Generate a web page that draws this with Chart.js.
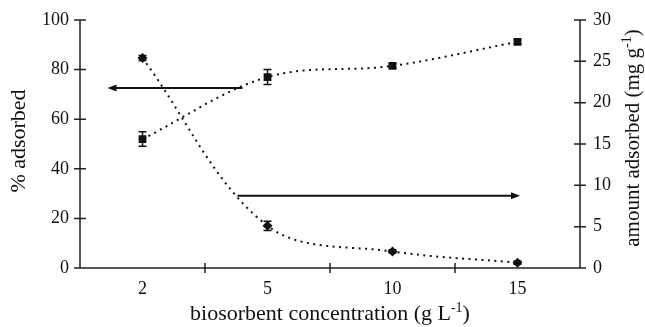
<!DOCTYPE html>
<html><head><meta charset="utf-8">
<script src="https://cdn.jsdelivr.net/npm/chart.js@4"></script>
<style>html,body{margin:0;padding:0;background:#fff}#c{display:block}</style>
</head><body>
<canvas id="c" width="645" height="327"></canvas>
<script>
const categories = ['2', '5', '10', '15'];
const percentAdsorbed = [52, 77, 81.5, 91.2];
const percentError = [2.9, 3.0, 0.9, 0.8];
const amountAdsorbed = [25.4, 5.1, 2.0, 0.65];
const amountError = [0.3, 0.55, 0.2, 0.2];
const leftTicks = [0, 20, 40, 60, 80, 100];
const rightTicks = [0, 5, 10, 15, 20, 25, 30];
// arrows, in axis units: [category index, value]
const arrowToLeft = { axis: 'y', from: [0.8, 72.6], to: [-0.28, 72.6] };
const arrowToRight = { axis: 'y1', from: [0.76, 8.75], to: [3.02, 8.75] };

const SERIF = "'Liberation Serif', 'Times New Roman', serif";
const INK = '#111';

const decor = {
  id: 'decor',
  afterDatasetsDraw(chart) {
    const ctx = chart.ctx;
    const x = chart.scales.x, y = chart.scales.y, y1 = chart.scales.y1;
    ctx.save();
    ctx.strokeStyle = INK; ctx.fillStyle = INK; ctx.lineWidth = 1.5;
    const bars = (vals, errs, sc) => {
      vals.forEach((v, i) => {
        const px = x.getPixelForValue(i);
        const t = sc.getPixelForValue(v + errs[i]), b = sc.getPixelForValue(v - errs[i]);
        ctx.beginPath();
        ctx.moveTo(px, t); ctx.lineTo(px, b);
        ctx.moveTo(px - 4, t); ctx.lineTo(px + 4, t);
        ctx.moveTo(px - 4, b); ctx.lineTo(px + 4, b);
        ctx.stroke();
      });
    };
    bars(percentAdsorbed, percentError, y);
    bars(amountAdsorbed, amountError, y1);
    const arrow = (a) => {
      const sc = chart.scales[a.axis];
      const x0 = x.getPixelForValue(a.from[0]), y0 = sc.getPixelForValue(a.from[1]);
      const x1 = x.getPixelForValue(a.to[0]), y1p = sc.getPixelForValue(a.to[1]);
      const dir = Math.sign(x1 - x0);
      ctx.lineWidth = 2;
      ctx.beginPath(); ctx.moveTo(x0, y0); ctx.lineTo(x1 - dir * 6, y1p); ctx.stroke();
      ctx.beginPath();
      ctx.moveTo(x1, y1p); ctx.lineTo(x1 - dir * 9, y1p - 3.5); ctx.lineTo(x1 - dir * 9, y1p + 3.5);
      ctx.closePath(); ctx.fill();
    };
    arrow(arrowToLeft);
    arrow(arrowToRight);
    ctx.restore();
  },
  afterDraw(chart) {
    const ctx = chart.ctx, a = chart.chartArea;
    const x = chart.scales.x, y = chart.scales.y, y1 = chart.scales.y1;
    ctx.save();
    ctx.strokeStyle = '#222'; ctx.lineWidth = 1.5;
    ctx.beginPath();
    ctx.moveTo(a.left, a.top); ctx.lineTo(a.left, a.bottom); ctx.lineTo(a.right, a.bottom); ctx.lineTo(a.right, a.top);
    leftTicks.forEach(v => { const p = y.getPixelForValue(v); ctx.moveTo(a.left - 6, p); ctx.lineTo(a.left + 6, p); });
    rightTicks.forEach(v => { const p = y1.getPixelForValue(v); ctx.moveTo(a.right - 6, p); ctx.lineTo(a.right + 6, p); });
    for (let i = 1; i < categories.length; i++) {
      const p = x.getPixelForValue(i - 0.5);
      ctx.moveTo(p, a.bottom - 5); ctx.lineTo(p, a.bottom + 5);
    }
    ctx.stroke();
    ctx.fillStyle = INK;
    const drawSup = (parts, cx, cy, rot, size) => {
      ctx.save();
      ctx.translate(cx, cy); ctx.rotate(rot);
      ctx.textBaseline = 'alphabetic'; ctx.textAlign = 'left';
      const f = (p) => p.sup ? `14px ${SERIF}` : `${size}px ${SERIF}`;
      let w = 0;
      parts.forEach(p => { ctx.font = f(p); w += ctx.measureText(p.t).width; });
      let xx = -w / 2;
      parts.forEach(p => {
        ctx.font = f(p);
        ctx.fillText(p.t, xx, p.sup ? -1 : 7);
        xx += ctx.measureText(p.t).width;
      });
      ctx.restore();
    };
    drawSup([{ t: 'biosorbent concentration (g L' }, { t: '-1', sup: true }, { t: ')' }], (a.left + a.right) / 2, 313, 0, 22);
    drawSup([{ t: '% adsorbed' }], 18, 141, -Math.PI / 2, 22);
    drawSup([{ t: 'amount adsorbed (mg g' }, { t: '-1', sup: true }, { t: ')' }], 632, 138, -Math.PI / 2, 21);
    ctx.restore();
  }
};

const tickFont = { family: SERIF, size: 18 };
new Chart(document.getElementById('c'), {
  type: 'line',
  data: {
    labels: categories,
    datasets: [
      {
        label: '% adsorbed', data: percentAdsorbed, yAxisID: 'y',
        borderColor: INK, backgroundColor: INK, borderWidth: 2, borderDash: [2, 4.5],
        pointStyle: 'rect', pointRadius: 5.5, pointBorderWidth: 0, tension: 0.35, fill: false
      },
      {
        label: 'amount adsorbed', data: amountAdsorbed, yAxisID: 'y1',
        borderColor: INK, backgroundColor: INK, borderWidth: 2, borderDash: [2, 4.5],
        pointStyle: 'rectRot', pointRadius: 5, pointBorderWidth: 0, tension: 0.35, fill: false
      }
    ]
  },
  options: {
    responsive: false, animation: false,
    layout: { padding: { top: 20, left: 0, right: 0, bottom: 0 } },
    plugins: { legend: { display: false }, tooltip: { enabled: false } },
    scales: {
      x: {
        type: 'category', offset: true,
        grid: { display: false }, border: { display: false },
        ticks: { font: tickFont, color: INK, padding: 2, maxRotation: 0 },
        afterFit(s) { s.height = 59; }
      },
      y: {
        position: 'left', min: 0, max: 100,
        grid: { display: false }, border: { display: false },
        ticks: { font: tickFont, color: INK, padding: 3, stepSize: 20 },
        afterFit(s) { s.width = 80; }
      },
      y1: {
        position: 'right', min: 0, max: 30,
        grid: { display: false }, border: { display: false },
        ticks: { font: tickFont, color: INK, padding: 5, stepSize: 5 },
        afterFit(s) { s.width = 65; }
      }
    }
  },
  plugins: [decor]
});
</script>
</body></html>
